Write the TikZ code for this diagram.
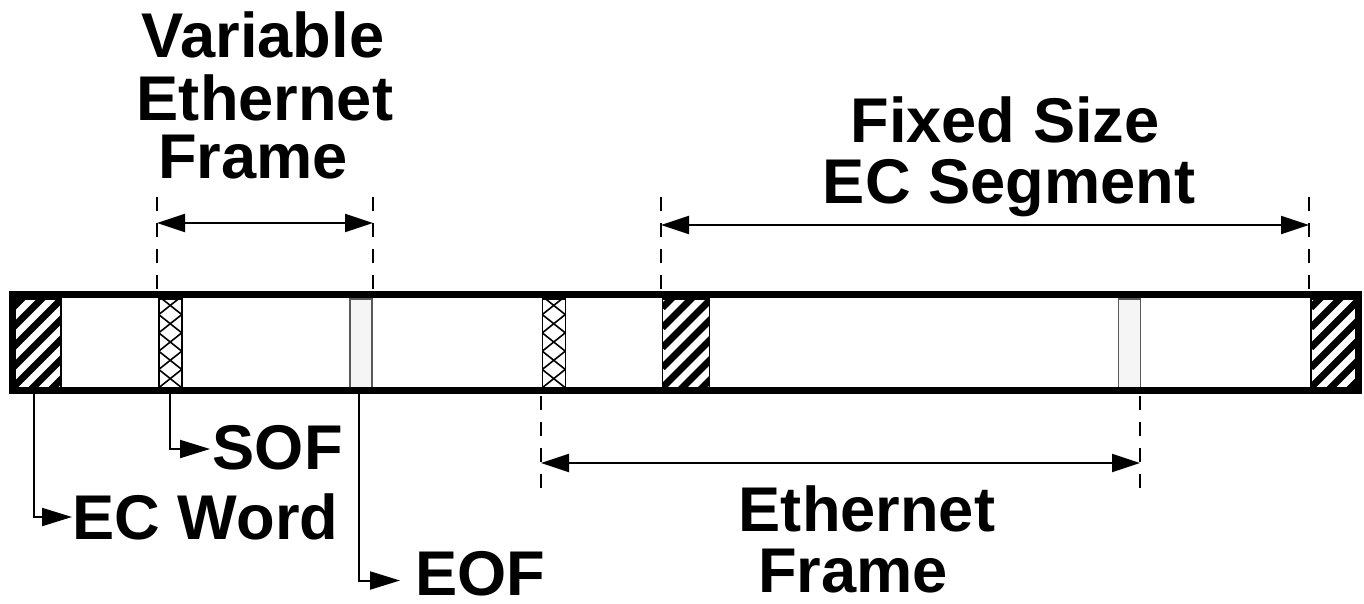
\documentclass[tikz,border=0pt]{standalone}
\usepackage{fontspec}
\setmainfont{Liberation Sans}
\usetikzlibrary{arrows.meta}
\begin{document}
\begin{tikzpicture}[x=1pt,y=-1pt,
  lbl/.style={font=\fontsize{63.2}{63}\selectfont\bfseries, inner sep=0pt},
  ttl/.style={lbl, anchor=base},
  field/.style={draw, line width=1.5pt, minimum height=89pt, inner sep=0pt, anchor=north west},
  ecbox/.style={field, minimum width=#1,
    path picture={\foreach \k in {-7,...,7}{\draw[line width=7pt]
      ([yshift=\k*20pt]path picture bounding box.south west) -- ++(160pt,160pt);}}},
  sofbox/.style={field, minimum width=23pt, fill=white,
    path picture={\foreach \k in {-2,...,7}{
      \draw[line width=1.6pt] ([yshift=\k*18.3pt]path picture bounding box.south west) -- ++(46pt,36.6pt);
      \draw[line width=1.6pt] ([yshift=\k*18.3pt]path picture bounding box.south east) -- ++(-46pt,36.6pt);}}},
  eofbox/.style={field, draw=black!65, fill=black!4, minimum width=22pt},
  ext/.style={line width=1.5pt, dash pattern=on 14pt off 12pt},
  dim/.style={line width=2pt, {Triangle[length=28pt,width=18pt]}-{Triangle[length=28pt,width=18pt]}},
  conn/.style={line width=2pt, -{Triangle[length=30pt,width=18pt]}},
  frame/.style={line width=7pt}
]
\useasboundingbox[fill=white] (0,0) rectangle (1364,603);

% fields of the stream
\node[ecbox=48pt] (ec1) at (12,298) {};
\node[sofbox] (sof1) at (158,298) {};
\node[eofbox] (eof1) at (349,298) {};
\node[sofbox] (sof2) at (541.5,298) {};
\node[ecbox=47pt] (ec2) at (661.5,298) {};
\node[eofbox] (eof2) at (1117.5,298) {};
\node[ecbox=48pt] (ec3) at (1310,298) {};

% outer frame of the stream
\draw[frame] (12,294.5) rectangle (1358,390.5);

% titles
\node[ttl] (t1a) at (263,57) {Variable};
\node[ttl] (t1b) at (265,120) {Ethernet};
\node[ttl] (t1c) at (253,178) {Frame};
\node[ttl] (t2a) at (1005,142) {Fixed Size};
\node[ttl] (t2b) at (1009,203) {EC Segment};
\node[ttl] (t3a) at (867,531) {Ethernet};
\node[ttl] (t3b) at (853,592) {Frame};

% dimension extension lines
\coordinate (a1) at (157,197);  \coordinate (a1e) at (157,290);
\coordinate (a2) at (373,197);  \coordinate (a2e) at (373,290);
\coordinate (b1) at (661,197);  \coordinate (b1e) at (661,290);
\coordinate (b2) at (1309,197); \coordinate (b2e) at (1309,290);
\coordinate (c1) at (541,396);  \coordinate (c1e) at (541,492);
\coordinate (c2) at (1140,396); \coordinate (c2e) at (1140,492);
\draw[ext] (a1) -- (a1e);
\draw[ext] (a2) -- (a2e);
\draw[ext] (b1) -- (b1e);
\draw[ext] (b2) -- (b2e);
\draw[ext] (c1) -- (c1e);
\draw[ext] (c2) -- (c2e);

% dimension arrows
\coordinate (a1m) at (157,223); \coordinate (a2m) at (373,223);
\coordinate (b1m) at (661,225); \coordinate (b2m) at (1309,225);
\coordinate (c1m) at (541,463); \coordinate (c2m) at (1140,463);
\draw[dim] (a1m) -- (a2m);
\draw[dim] (b1m) -- (b2m);
\draw[dim] (c1m) -- (c2m);

% callout labels
\node[lbl, anchor=west, inner xsep=2.5pt] (sof) at (210,448) {SOF};
\node[lbl, anchor=west, inner xsep=0.5pt] (ecw) at (72,517) {EC Word};
\node[lbl, anchor=west, inner xsep=15pt] (eof) at (400,573.5) {EOF};

\draw[conn] ([xshift=-3pt]ec1.south) |- (ecw.west);
\draw[conn] (sof1.south) |- ([yshift=-1pt]sof.west);
\draw[conn] ([xshift=-2pt]eof1.south) |- ([yshift=-7pt]eof.west);
\end{tikzpicture}
\end{document}
